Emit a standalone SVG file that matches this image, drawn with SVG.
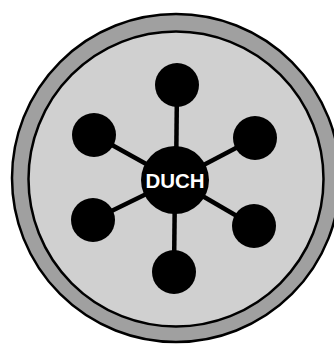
<svg xmlns="http://www.w3.org/2000/svg" width="334" height="344" viewBox="0 0 334 344">
<style>
.edge{stroke:#000;stroke-width:4.5;fill:none}
.leaf{fill:#000}
.label{font-family:"Liberation Sans",Arial,sans-serif;font-weight:bold;font-size:20.5px;fill:#fff;text-anchor:middle}
</style>
<rect width="334" height="344" fill="#fff"/>
<g id="frame">
<circle cx="176" cy="178" r="164" fill="#a0a0a0" stroke="#000" stroke-width="2.5"/>
<circle cx="176" cy="179" r="147.5" fill="#d0d0d0" stroke="#000" stroke-width="2.5"/>
</g>
<g id="connectors">
<line class="edge" x1="177" y1="85" x2="176" y2="180"/>
<line class="edge" x1="94" y1="135" x2="175" y2="180"/>
<line class="edge" x1="255" y1="138" x2="175" y2="180"/>
<line class="edge" x1="93" y1="220" x2="175" y2="180"/>
<line class="edge" x1="254" y1="226" x2="175" y2="180"/>
<line class="edge" x1="174" y1="272" x2="175" y2="180"/>
</g>
<g id="node-top"><circle class="leaf" cx="177" cy="85" r="22"/></g>
<g id="node-upper-left"><circle class="leaf" cx="94" cy="135" r="22"/></g>
<g id="node-upper-right"><circle class="leaf" cx="255" cy="138" r="22"/></g>
<g id="node-lower-left"><circle class="leaf" cx="93" cy="220" r="22"/></g>
<g id="node-lower-right"><circle class="leaf" cx="254" cy="226" r="22"/></g>
<g id="node-bottom"><circle class="leaf" cx="174" cy="272" r="22"/></g>
<g id="node-duch">
<circle cx="175" cy="180" r="34" fill="#000"/>
<text class="label" x="175" y="188">DUCH</text>
</g>
</svg>
